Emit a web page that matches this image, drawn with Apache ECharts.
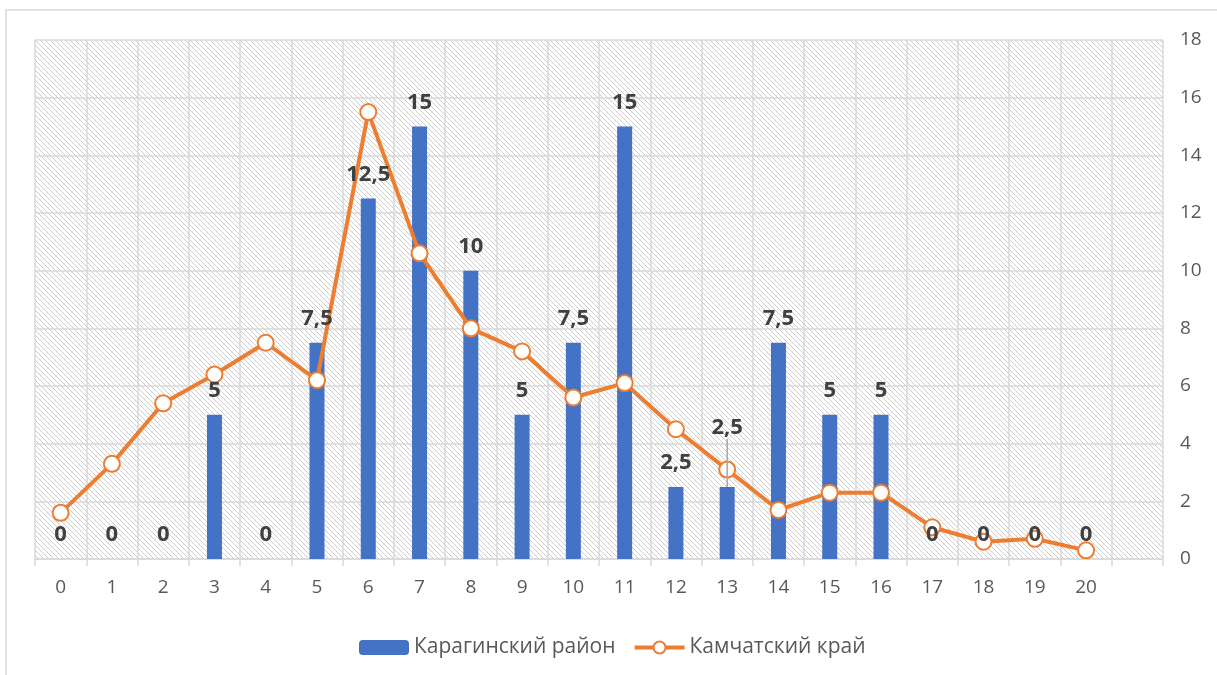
<!DOCTYPE html>
<html>
<head>
<meta charset="utf-8">
<title>Карагинский район / Камчатский край</title>
<script src="https://cdn.jsdelivr.net/npm/echarts@6/dist/echarts.min.js"></script>
<style>
  html, body { margin: 0; padding: 0; background: #fff; }
  #chart { width: 1217px; height: 675px; }
</style>
</head>
<body>
<div id="chart"></div>
<script>
// данные
const categories = ['0','1','2','3','4','5','6','7','8','9','10','11','12','13','14','15','16','17','18','19','20',''];
const karaginsky = [0, 0, 0, 5, 0, 7.5, 12.5, 15, 10, 5, 7.5, 15, 2.5, 2.5, 7.5, 5, 5, 0, 0, 0, 0, null];
const kamchatka = [1.6, 3.3, 5.4, 6.4, 7.5, 6.2, 15.5, 10.6, 8.0, 7.2, 5.6, 6.1, 4.5, 3.1, 1.7, 2.3, 2.3, 1.1, 0.6, 0.7, 0.3, null];
const yTicks = { min: 0, max: 18, interval: 2 };
const movedLabel = 13; // подпись, вынесенная вверх с выноской

// штриховка фона области построения
function hatch() {
  const s = 5;
  const c = document.createElement('canvas');
  c.width = s; c.height = s;
  const ctx = c.getContext('2d');
  ctx.strokeStyle = 'rgba(170,170,170,0.6)';
  ctx.lineWidth = 1;
  for (const k of [-s, 0, s]) {
    ctx.beginPath();
    ctx.moveTo(k, 0);
    ctx.lineTo(k + s, s);
    ctx.stroke();
  }
  return c;
}

const font = 'Open Sans';
const labelData = karaginsky.map((v, i) => i === movedLabel
  ? { value: v, labelLine: { show: true } }
  : v);

const chart = echarts.init(document.getElementById('chart'));
chart.setOption({
  animation: false,
  textStyle: { fontFamily: font },
  graphic: [{
    type: 'rect',
    shape: { x: 6, y: 10, width: 1230, height: 700 },
    style: { fill: 'none', stroke: '#d9d9d9', lineWidth: 1.5 },
    silent: true, z: -10
  }],
  grid: {
    left: 35, right: 54, top: 40, bottom: 116,
    show: true,
    borderWidth: 0,
    backgroundColor: { image: hatch(), repeat: 'repeat' }
  },
  legend: {
    left: 354, top: 632,
    itemWidth: 50, itemHeight: 15, itemGap: 17,
    textStyle: { fontSize: 21, color: '#595959', fontFamily: font },
    data: [
      { name: 'Карагинский район' },
      { name: 'Камчатский край', lineStyle: { width: 4 }, itemStyle: { borderWidth: 3 } }
    ]
  },
  xAxis: {
    type: 'category',
    data: categories,
    boundaryGap: true,
    axisLine: { lineStyle: { color: '#d9d9d9', width: 1.5 } },
    axisTick: { show: true, length: 7, lineStyle: { color: '#d9d9d9', width: 1.5 } },
    axisLabel: { fontSize: 19, color: '#595959', margin: 19, interval: 0 },
    splitLine: { show: true, interval: 0, lineStyle: { color: '#d9d9d9', width: 1.5 } }
  },
  yAxis: {
    type: 'value',
    position: 'right',
    min: yTicks.min, max: yTicks.max, interval: yTicks.interval,
    axisLine: { show: false },
    axisTick: { show: false },
    axisLabel: { fontSize: 19, color: '#595959', margin: 17 },
    splitLine: { lineStyle: { color: '#d9d9d9', width: 1.5 } }
  },
  series: [
    {
      name: 'Карагинский район',
      type: 'bar',
      data: karaginsky,
      barWidth: 15,
      itemStyle: { color: '#4472C4' },
      z: 2
    },
    {
      name: 'Камчатский край',
      type: 'line',
      data: kamchatka,
      symbol: 'emptyCircle',
      symbolSize: 16,
      lineStyle: { color: '#ED7D31', width: 4 },
      itemStyle: { color: '#ED7D31', borderWidth: 3 },
      z: 3
    },
    {
      // подписи столбцов поверх линии
      name: 'labels',
      type: 'bar',
      data: labelData,
      barWidth: 15,
      barGap: '-100%',
      itemStyle: { color: 'rgba(0,0,0,0)' },
      silent: true,
      z: 5,
      label: {
        show: true,
        position: 'top',
        distance: 13,
        fontSize: 22,
        fontWeight: 'bold',
        color: '#404040',
        fontFamily: font,
        formatter: p => p.value == null ? '' : String(p.value).replace('.', ',')
      },
      labelLine: { show: false, lineStyle: { color: '#a6a6a6', width: 1.5 } },
      labelLayout: p => p.dataIndex === movedLabel ? { dy: -35 } : {}
    }
  ]
});
</script>
</body>
</html>
